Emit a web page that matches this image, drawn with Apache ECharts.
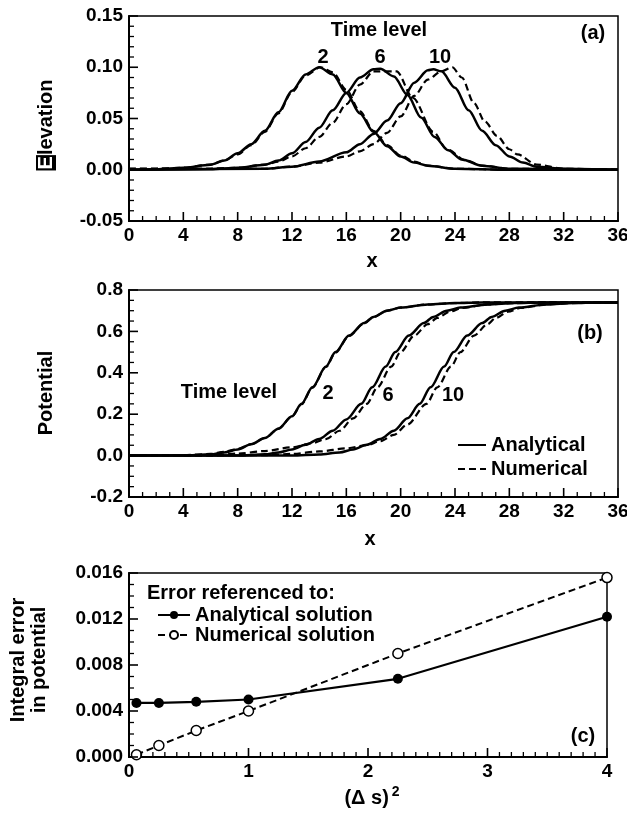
<!DOCTYPE html>
<html>
<head>
<meta charset="utf-8">
<script src="https://cdn.jsdelivr.net/npm/echarts@6/dist/echarts.min.js"></script>
<style>
  html, body { margin: 0; padding: 0; background: #fff; }
  #chart { width: 627px; height: 813px; }
</style>
</head>
<body>
<div id="chart"></div>
<script>
// panel (a): elevation vs x, [x, elevation]
const elevAna2 = [[0,0],[2,0.0005],[4,0.002],[6,0.005],[7,0.009],[8,0.016],[9,0.025],[10,0.038],[11,0.056],[12,0.077],[13,0.093],[14,0.1],[15,0.093],[16,0.075],[17,0.055],[18,0.037],[19,0.023],[20,0.013],[21,0.007],[22,0.004],[24,0.001],[28,0],[36,0]];
const elevNum2 = [[0,0.001],[2,0.001],[4,0.002],[6,0.005],[7,0.009],[8,0.015],[9,0.024],[10,0.037],[11,0.055],[12,0.076],[13,0.092],[14.1,0.1],[15,0.095],[16,0.078],[17,0.057],[18,0.038],[19,0.024],[20,0.014],[21,0.008],[22,0.004],[24,0.001],[28,0],[36,0]];
const elevAna6 = [[0,0],[6,0.0005],[8,0.002],[10,0.005],[11,0.009],[12,0.016],[13,0.027],[14,0.041],[15,0.058],[16,0.075],[17,0.09],[18,0.098],[18.5,0.0985],[19.5,0.091],[20.5,0.073],[21.5,0.051],[22.5,0.032],[23.5,0.019],[24.5,0.01],[26,0.004],[28,0.001],[36,0]];
const elevNum6 = [[0,0.001],[6,0.001],[8,0.002],[10,0.005],[11,0.008],[12,0.013],[13,0.021],[14,0.032],[15,0.046],[16,0.064],[17,0.083],[18,0.096],[19.7,0.096],[20.9,0.07],[22.4,0.037],[23.4,0.02],[24.8,0.009],[26,0.004],[28,0.001],[36,0]];
const elevAna10 = [[0,0],[10,0.001],[12,0.003],[14,0.008],[16,0.017],[17,0.025],[18,0.035],[19,0.048],[20,0.065],[21,0.085],[22,0.097],[22.4,0.098],[23,0.096],[24,0.08],[25,0.058],[26,0.038],[27,0.024],[28,0.013],[29,0.007],[30,0.003],[32,0.001],[36,0]];
const elevNum10 = [[0,0.001],[10,0.001],[12,0.003],[14,0.007],[16,0.013],[17,0.018],[18,0.025],[19,0.036],[20,0.052],[21,0.072],[22,0.088],[23,0.096],[23.8,0.1],[24.5,0.09],[25.4,0.065],[26.2,0.047],[27.1,0.033],[28,0.02],[28.6,0.015],[30,0.005],[32,0.001],[36,0]];

// panel (b): potential vs x
const potAna2 = [[0,0],[4,0],[6,0.006],[7,0.015],[8,0.03],[9,0.055],[10,0.085],[11,0.13],[12,0.19],[12.7,0.25],[13.5,0.33],[14.5,0.43],[15.2,0.5],[16.2,0.58],[17.3,0.64],[18,0.67],[19,0.7],[20,0.715],[22,0.73],[24,0.737],[26,0.74],[36,0.74]];
const potNum2 = [[0,0],[4,0.002],[6,0.008],[7,0.018],[8,0.032],[9,0.056],[10,0.085],[11,0.13],[12,0.19],[12.7,0.248],[13.5,0.328],[14.5,0.428],[15.2,0.498],[16.2,0.578],[17.3,0.638],[18,0.669],[19,0.7],[20,0.715],[22,0.73],[24,0.737],[26,0.74],[36,0.74]];
const potAna6 = [[0,0],[8,0],[10,0.006],[11,0.015],[12,0.03],[13,0.052],[14,0.08],[15,0.12],[16,0.175],[17.1,0.25],[17.9,0.33],[18.9,0.43],[19.6,0.5],[20.6,0.58],[21.7,0.64],[22.4,0.67],[23.4,0.7],[24.4,0.715],[26.4,0.73],[28.4,0.737],[30.4,0.74],[36,0.74]];
const potNum6 = [[0,0],[6,0.001],[8,0.01],[10,0.022],[12,0.04],[13.5,0.06],[14.5,0.08],[15.5,0.12],[16.5,0.18],[17.5,0.25],[18.3,0.33],[19.3,0.43],[20,0.5],[21,0.58],[22,0.635],[22.7,0.665],[23.6,0.695],[24.5,0.713],[26.4,0.73],[28.4,0.737],[30.4,0.74],[36,0.74]];
const potAna10 = [[0,0],[12,0],[14,0.005],[15.5,0.015],[16.5,0.03],[17.5,0.052],[18.5,0.08],[19.5,0.12],[20.5,0.18],[21.4,0.25],[22.2,0.33],[23.2,0.43],[23.9,0.5],[24.9,0.58],[26,0.64],[26.7,0.67],[27.7,0.7],[28.7,0.715],[30.7,0.73],[32.7,0.737],[34.5,0.74],[36,0.74]];
const potNum10 = [[0,0],[10,0.002],[12,0.008],[14,0.02],[16,0.035],[17.5,0.05],[18.5,0.07],[19.5,0.1],[20.5,0.15],[21.9,0.25],[22.7,0.33],[23.7,0.43],[24.4,0.5],[25.4,0.58],[26.4,0.635],[27,0.665],[27.9,0.695],[28.8,0.713],[30.7,0.73],[32.7,0.737],[34.5,0.74],[36,0.74]];

// panel (c): integral error vs (ds)^2
const dsSquared = [0.0625, 0.25, 0.5625, 1, 2.25, 4];
const errAnalytical = [0.0047, 0.0047, 0.0048, 0.005, 0.0068, 0.0122];
const errNumerical = [0.0002, 0.001, 0.0023, 0.004, 0.009, 0.0156];

// tick positions (major / minor) for each axis
const xMajor36 = [0,4,8,12,16,20,24,28,32,36];
const xMinor36 = [1,2,3,5,6,7,9,10,11,13,14,15,17,18,19,21,22,23,25,26,27,29,30,31,33,34,35];
const yMajorA = [-0.05,0,0.05,0.1,0.15];
const yMinorA = [-0.04,-0.03,-0.02,-0.01,0.01,0.02,0.03,0.04,0.06,0.07,0.08,0.09,0.11,0.12,0.13,0.14];
const yMajorB = [-0.2,0,0.2,0.4,0.6,0.8];
const yMinorB = [-0.15,-0.1,-0.05,0.05,0.1,0.15,0.25,0.3,0.35,0.45,0.5,0.55,0.65,0.7,0.75];
const xMajorC = [0,1,2,3,4];
const xMinorC = [0.1,0.2,0.3,0.4,0.5,0.6,0.7,0.8,0.9,1.1,1.2,1.3,1.4,1.5,1.6,1.7,1.8,1.9,2.1,2.2,2.3,2.4,2.5,2.6,2.7,2.8,2.9,3.1,3.2,3.3,3.4,3.5,3.6,3.7,3.8,3.9];
const yMajorC = [0,0.004,0.008,0.012,0.016];
const yMinorC = [0.001,0.002,0.003,0.005,0.006,0.007,0.009,0.01,0.011,0.013,0.014,0.015];

const FONT = "'Liberation Sans', Arial, sans-serif";
const BLACK = "#000";

function pairs(xs, ys) {
  return xs.map((x, i) => [x, ys[i]]);
}
function clean(v) {
  return Math.abs(v) < 1e-9 ? 0 : v;
}

function baseAxis(grid, min, max, interval) {
  return {
    gridIndex: grid, type: "value", min: min, max: max, interval: interval,
    axisLine: { show: true, onZero: false, lineStyle: { color: BLACK, width: 2 } },
    axisTick: { show: false },
    minorTick: { show: false },
    splitLine: { show: false },
  };
}
function xAxisOf(grid, max, interval) {
  return Object.assign(baseAxis(grid, 0, max, interval), {
    axisLabel: { color: BLACK, fontFamily: FONT, fontWeight: "bold", fontSize: 19, margin: 5 },
  });
}
function yAxisOf(grid, min, max, interval, digits) {
  return Object.assign(baseAxis(grid, min, max, interval), {
    axisLabel: {
      color: BLACK, fontFamily: FONT, fontWeight: "bold", fontSize: 19, margin: 6,
      formatter: (v) => clean(v).toFixed(digits),
    },
  });
}

// inward ticks, placed through the axis scale of the given grid
function tickSeries(grid, dir, values, len) {
  return {
    type: "custom", xAxisIndex: grid, yAxisIndex: grid, silent: true, clip: false, z: 5,
    data: values.map((v) => (dir === "x" ? [v, 0] : [0, v])),
    renderItem: (params, api) => {
      const cs = params.coordSys;
      const p = api.coord([api.value(0), api.value(1)]);
      let shape;
      if (dir === "x") {
        const yb = cs.y + cs.height;
        shape = { x1: p[0], y1: yb, x2: p[0], y2: yb - len };
      } else {
        shape = { x1: cs.x, y1: p[1], x2: cs.x + len, y2: p[1] };
      }
      return { type: "line", shape: shape, style: { stroke: BLACK, lineWidth: len > 6 ? 1.6 : 1.3 } };
    },
  };
}

function curve(name, data, grid, dashed) {
  return {
    name: name, type: "line", data: data, xAxisIndex: grid, yAxisIndex: grid,
    symbol: "none", smooth: 0.3, smoothMonotone: "x", silent: true,
    lineStyle: { color: BLACK, width: dashed ? 2.2 : 2.5, type: dashed ? [7, 4] : "solid" },
    itemStyle: { color: BLACK },
  };
}
function label(text, x, y, extra) {
  return Object.assign({
    type: "text", x: x, y: y, silent: true,
    style: { text: text, fill: BLACK, font: "bold 20px " + FONT, align: "center", verticalAlign: "middle" },
  }, extra || {});
}

const chart = echarts.init(document.getElementById("chart"), null, { renderer: "canvas" });

chart.setOption({
  animation: false,
  backgroundColor: "#fff",
  grid: [
    { left: 129, top: 16, width: 489, height: 205, show: true, borderColor: BLACK, borderWidth: 1.5, outerBoundsMode: "none" },
    { left: 129, top: 290, width: 489, height: 207, show: true, borderColor: BLACK, borderWidth: 1.5, outerBoundsMode: "none" },
    { left: 129, top: 573, width: 478, height: 184, show: true, borderColor: BLACK, borderWidth: 1.5, outerBoundsMode: "none" },
  ],
  xAxis: [
    xAxisOf(0, 36, 4),
    xAxisOf(1, 36, 4),
    xAxisOf(2, 4, 1),
  ],
  yAxis: [
    yAxisOf(0, -0.05, 0.15, 0.05, 2),
    yAxisOf(1, -0.2, 0.8, 0.2, 1),
    yAxisOf(2, 0, 0.016, 0.004, 3),
  ],
  legend: [
    {
      data: ["Analytical", "Numerical"], orient: "vertical", left: 452, top: 430,
      itemWidth: 28, itemHeight: 12, itemGap: 4, selectedMode: false,
      itemStyle: { color: "transparent", borderColor: "transparent", borderWidth: 0, opacity: 0 },
      textStyle: { color: BLACK, fontFamily: FONT, fontWeight: "bold", fontSize: 20 },
    },
    {
      data: ["Analytical solution", "Numerical solution"], orient: "vertical", left: 152, top: 600,
      itemWidth: 32, itemHeight: 10, itemGap: 0, selectedMode: false,
      textStyle: { color: BLACK, fontFamily: FONT, fontWeight: "bold", fontSize: 20 },
    },
  ],
  series: [
    curve("Analytical", elevAna2, 0, false),
    curve("Numerical", elevNum2, 0, true),
    curve("Analytical", elevAna6, 0, false),
    curve("Numerical", elevNum6, 0, true),
    curve("Analytical", elevAna10, 0, false),
    curve("Numerical", elevNum10, 0, true),
    curve("Analytical", potAna2, 1, false),
    curve("Numerical", potNum2, 1, true),
    curve("Analytical", potAna6, 1, false),
    curve("Numerical", potNum6, 1, true),
    curve("Analytical", potAna10, 1, false),
    curve("Numerical", potNum10, 1, true),
    {
      name: "Analytical solution", type: "line", xAxisIndex: 2, yAxisIndex: 2,
      data: pairs(dsSquared, errAnalytical), symbol: "circle", symbolSize: 10,
      lineStyle: { color: BLACK, width: 2.2 }, itemStyle: { color: BLACK }, silent: true,
    },
    {
      name: "Numerical solution", type: "line", xAxisIndex: 2, yAxisIndex: 2,
      data: pairs(dsSquared, errNumerical), symbol: "circle", symbolSize: 10,
      lineStyle: { color: BLACK, width: 2, type: [7, 4] },
      itemStyle: { color: "#fff", borderColor: BLACK, borderWidth: 1.5 }, silent: true,
    },
    // axis ticks
    tickSeries(0, "x", xMajor36, 9), tickSeries(0, "x", xMinor36, 5),
    tickSeries(0, "y", yMajorA, 9), tickSeries(0, "y", yMinorA, 5),
    tickSeries(1, "x", xMajor36, 9), tickSeries(1, "x", xMinor36, 5),
    tickSeries(1, "y", yMajorB, 9), tickSeries(1, "y", yMinorB, 5),
    tickSeries(2, "x", xMajorC, 9), tickSeries(2, "x", xMinorC, 5),
    tickSeries(2, "y", yMajorC, 9), tickSeries(2, "y", yMinorC, 5),
  ],
  graphic: [
    // panel (a)
    label("(a)", 593, 33),
    label("Time level", 379, 30),
    label("2", 323, 57),
    label("6", 380, 57),
    label("10", 440, 57),
    label("x", 372, 261),
    {
      type: "text", x: 46, y: 125, rotation: Math.PI / 2, silent: true,
      style: {
        text: "{box|E}levation", fill: BLACK, font: "bold 20px " + FONT, align: "center", verticalAlign: "middle",
        rich: { box: { backgroundColor: BLACK, fill: "#fff", color: "#fff", font: "bold 20px " + FONT, padding: [0, 1, 0, 1] } },
      },
    },
    // panel (b)
    label("(b)", 590, 333),
    label("Time level", 229, 392),
    label("2", 328, 393),
    label("6", 388, 395),
    label("10", 453, 395),
    label("x", 370, 539),
    label("Potential", 46, 393, { rotation: Math.PI / 2 }),
    // panel (c)
    label("(c)", 583, 736),
    label("Error referenced to:", 147, 593, { style: { text: "Error referenced to:", fill: BLACK, font: "bold 20px " + FONT, align: "left", verticalAlign: "middle" } }),
    label("Integral error\nin potential", 29, 660, { rotation: Math.PI / 2, style: { text: "Integral error\nin potential", fill: BLACK, font: "bold 20px " + FONT, align: "center", verticalAlign: "middle", lineHeight: 21 } }),
    {
      type: "text", x: 372, y: 798, silent: true,
      style: {
        text: "(Δ s){sup|2}", fill: BLACK, font: "bold 20px " + FONT, align: "center", verticalAlign: "middle",
        rich: { sup: { font: "bold 14px " + FONT, fill: BLACK, verticalAlign: "top", padding: [0, 0, 12, 3] } },
      },
    },
  ],
});
</script>
</body>
</html>
